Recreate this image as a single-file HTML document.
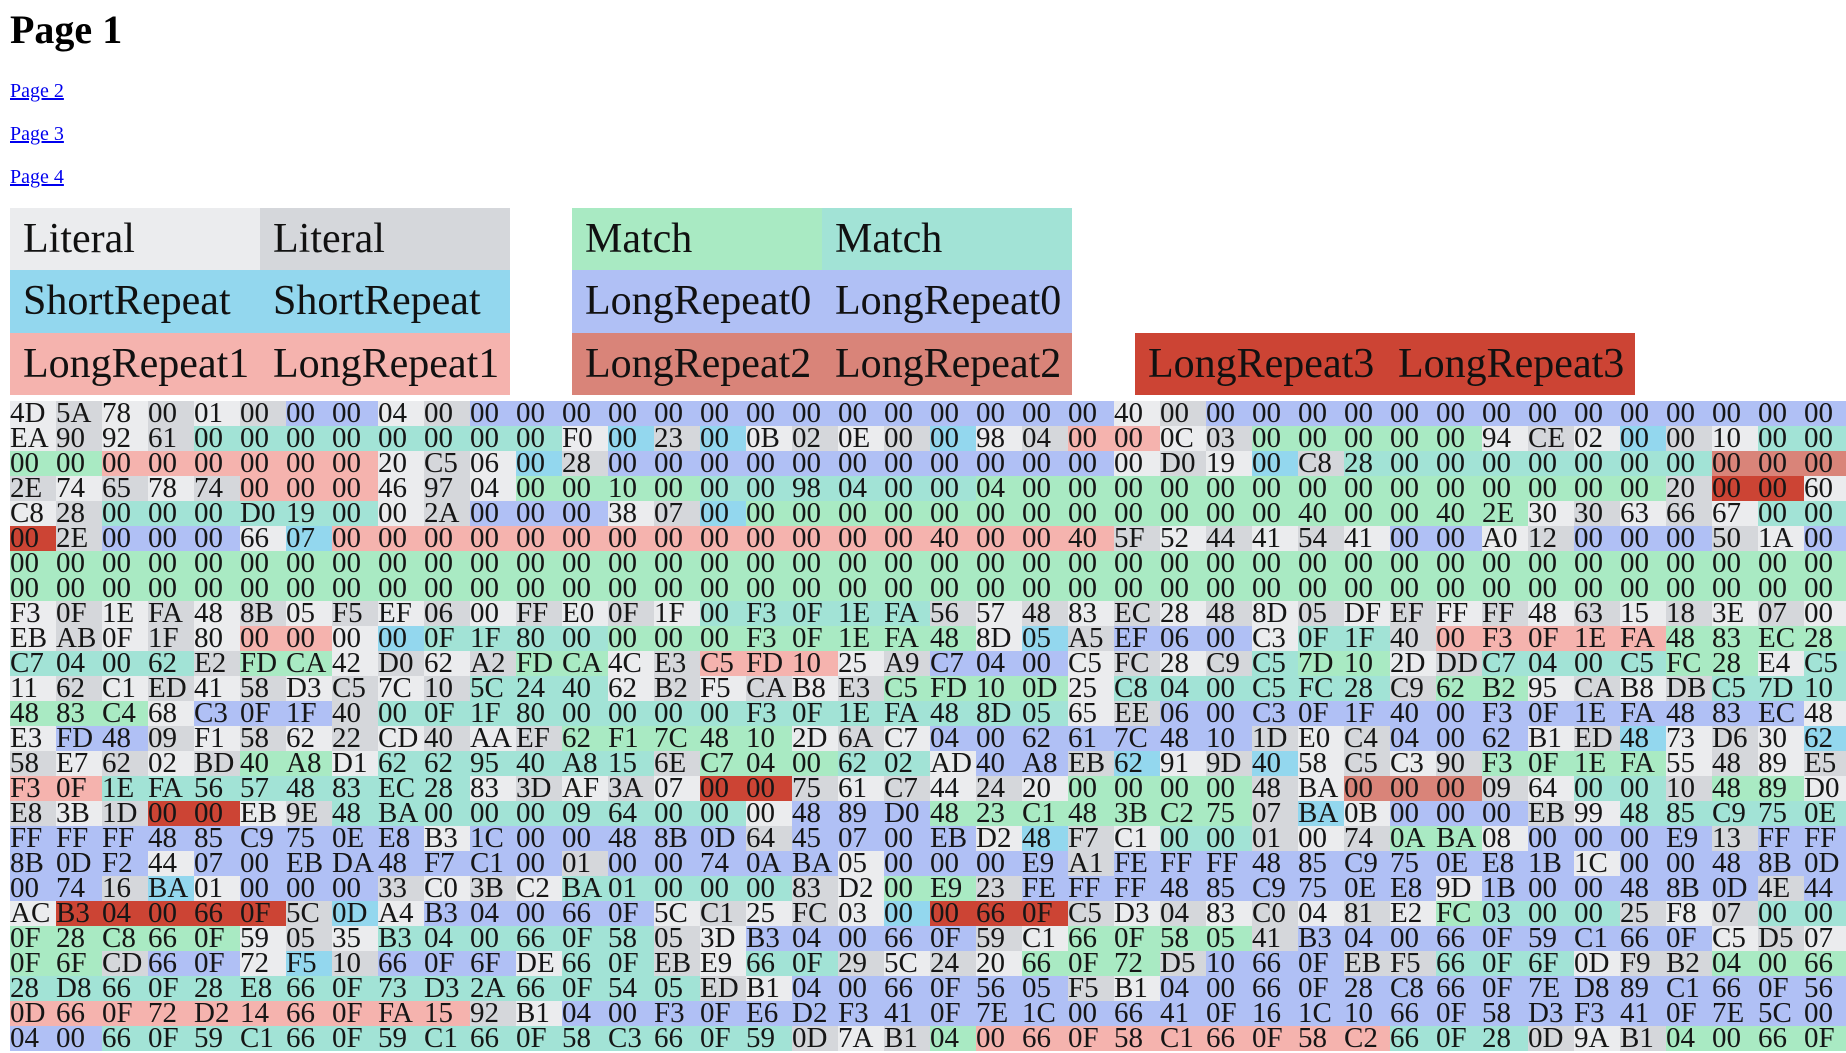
<!DOCTYPE html>
<html><head><meta charset="utf-8">
<style>
html,body{margin:0;padding:0;background:#fff;width:1846px;height:1053px;overflow:hidden;}
body{position:relative;font-family:"Liberation Serif",serif;color:#000;}
h1{position:absolute;left:10px;top:6px;margin:0;font-size:40px;font-weight:bold;line-height:48px;}
a{position:absolute;left:10px;font-size:20px;color:#0000ee;text-decoration:underline;line-height:23px;}
.lg{position:absolute;width:250px;height:62.4px;box-sizing:border-box;padding-left:13px;font-size:42px;line-height:62px;white-space:nowrap;color:#111;}
#grid{position:absolute;left:10px;top:401px;width:1900px;}
.row{height:25px;white-space:nowrap;}
.c{display:inline-block;width:46px;height:25px;font-size:29px;line-height:25px;vertical-align:top;overflow:visible;color:#161616;}
</style></head><body>
<h1>Page 1</h1>
<a href="#" style="top:80px">Page 2</a>
<a href="#" style="top:123px">Page 3</a>
<a href="#" style="top:166px">Page 4</a>

<div class="lg" style="left:10px;top:208px;background:#ebecee">Literal</div>
<div class="lg" style="left:260px;top:208px;background:#d5d7db">Literal</div>
<div class="lg" style="left:10px;top:270.4px;background:#93d7ee">ShortRepeat</div>
<div class="lg" style="left:260px;top:270.4px;background:#93d7ee">ShortRepeat</div>
<div class="lg" style="left:10px;top:332.8px;background:#f5b3ae">LongRepeat1</div>
<div class="lg" style="left:260px;top:332.8px;background:#f5b3ae">LongRepeat1</div>
<div class="lg" style="left:572px;top:208px;background:#a9eac3">Match</div>
<div class="lg" style="left:822px;top:208px;background:#a2e3d6">Match</div>
<div class="lg" style="left:572px;top:270.4px;background:#b0c0f5">LongRepeat0</div>
<div class="lg" style="left:822px;top:270.4px;background:#b0c0f5">LongRepeat0</div>
<div class="lg" style="left:572px;top:332.8px;background:#d98479">LongRepeat2</div>
<div class="lg" style="left:822px;top:332.8px;background:#d98479">LongRepeat2</div>
<div class="lg" style="left:1135px;top:332.8px;background:#cc4434">LongRepeat3</div>
<div class="lg" style="left:1385px;top:332.8px;background:#cc4434">LongRepeat3</div>

<div id="grid"></div>

<script>
const hexRows = [
"4D 5A 78 00 01 00 00 00 04 00 00 00 00 00 00 00 00 00 00 00 00 00 00 00 40 00 00 00 00 00 00 00 00 00 00 00 00 00 00 00",
"EA 90 92 61 00 00 00 00 00 00 00 00 F0 00 23 00 0B 02 0E 00 00 98 04 00 00 0C 03 00 00 00 00 00 94 CE 02 00 00 10 00 00",
"00 00 00 00 00 00 00 00 20 C5 06 00 28 00 00 00 00 00 00 00 00 00 00 00 00 D0 19 00 C8 28 00 00 00 00 00 00 00 00 00 00",
"2E 74 65 78 74 00 00 00 46 97 04 00 00 10 00 00 00 98 04 00 00 04 00 00 00 00 00 00 00 00 00 00 00 00 00 00 20 00 00 60",
"C8 28 00 00 00 D0 19 00 00 2A 00 00 00 38 07 00 00 00 00 00 00 00 00 00 00 00 00 00 40 00 00 40 2E 30 30 63 66 67 00 00",
"00 2E 00 00 00 66 07 00 00 00 00 00 00 00 00 00 00 00 00 00 40 00 00 40 5F 52 44 41 54 41 00 00 A0 12 00 00 00 50 1A 00",
"00 00 00 00 00 00 00 00 00 00 00 00 00 00 00 00 00 00 00 00 00 00 00 00 00 00 00 00 00 00 00 00 00 00 00 00 00 00 00 00",
"00 00 00 00 00 00 00 00 00 00 00 00 00 00 00 00 00 00 00 00 00 00 00 00 00 00 00 00 00 00 00 00 00 00 00 00 00 00 00 00",
"F3 0F 1E FA 48 8B 05 F5 EF 06 00 FF E0 0F 1F 00 F3 0F 1E FA 56 57 48 83 EC 28 48 8D 05 DF EF FF FF 48 63 15 18 3E 07 00",
"EB AB 0F 1F 80 00 00 00 00 0F 1F 80 00 00 00 00 F3 0F 1E FA 48 8D 05 A5 EF 06 00 C3 0F 1F 40 00 F3 0F 1E FA 48 83 EC 28",
"C7 04 00 62 E2 FD CA 42 D0 62 A2 FD CA 4C E3 C5 FD 10 25 A9 C7 04 00 C5 FC 28 C9 C5 7D 10 2D DD C7 04 00 C5 FC 28 E4 C5",
"11 62 C1 ED 41 58 D3 C5 7C 10 5C 24 40 62 B2 F5 CA B8 E3 C5 FD 10 0D 25 C8 04 00 C5 FC 28 C9 62 B2 95 CA B8 DB C5 7D 10",
"48 83 C4 68 C3 0F 1F 40 00 0F 1F 80 00 00 00 00 F3 0F 1E FA 48 8D 05 65 EE 06 00 C3 0F 1F 40 00 F3 0F 1E FA 48 83 EC 48",
"E3 FD 48 09 F1 58 62 22 CD 40 AA EF 62 F1 7C 48 10 2D 6A C7 04 00 62 61 7C 48 10 1D E0 C4 04 00 62 B1 ED 48 73 D6 30 62",
"58 E7 62 02 BD 40 A8 D1 62 62 95 40 A8 15 6E C7 04 00 62 02 AD 40 A8 EB 62 91 9D 40 58 C5 C3 90 F3 0F 1E FA 55 48 89 E5",
"F3 0F 1E FA 56 57 48 83 EC 28 83 3D AF 3A 07 00 00 75 61 C7 44 24 20 00 00 00 00 48 BA 00 00 00 09 64 00 00 10 48 89 D0",
"E8 3B 1D 00 00 EB 9E 48 BA 00 00 00 09 64 00 00 00 48 89 D0 48 23 C1 48 3B C2 75 07 BA 0B 00 00 00 EB 99 48 85 C9 75 0E",
"FF FF FF 48 85 C9 75 0E E8 B3 1C 00 00 48 8B 0D 64 45 07 00 EB D2 48 F7 C1 00 00 01 00 74 0A BA 08 00 00 00 E9 13 FF FF",
"8B 0D F2 44 07 00 EB DA 48 F7 C1 00 01 00 00 74 0A BA 05 00 00 00 E9 A1 FE FF FF 48 85 C9 75 0E E8 1B 1C 00 00 48 8B 0D",
"00 74 16 BA 01 00 00 00 33 C0 3B C2 BA 01 00 00 00 83 D2 00 E9 23 FE FF FF 48 85 C9 75 0E E8 9D 1B 00 00 48 8B 0D 4E 44",
"AC B3 04 00 66 0F 5C 0D A4 B3 04 00 66 0F 5C C1 25 FC 03 00 00 66 0F C5 D3 04 83 C0 04 81 E2 FC 03 00 00 25 F8 07 00 00",
"0F 28 C8 66 0F 59 05 35 B3 04 00 66 0F 58 05 3D B3 04 00 66 0F 59 C1 66 0F 58 05 41 B3 04 00 66 0F 59 C1 66 0F C5 D5 07",
"0F 6F CD 66 0F 72 F5 10 66 0F 6F DE 66 0F EB E9 66 0F 29 5C 24 20 66 0F 72 D5 10 66 0F EB F5 66 0F 6F 0D F9 B2 04 00 66",
"28 D8 66 0F 28 E8 66 0F 73 D3 2A 66 0F 54 05 ED B1 04 00 66 0F 56 05 F5 B1 04 00 66 0F 28 C8 66 0F 7E D8 89 C1 66 0F 56",
"0D 66 0F 72 D2 14 66 0F FA 15 92 B1 04 00 F3 0F E6 D2 F3 41 0F 7E 1C 00 66 41 0F 16 1C 10 66 0F 58 D3 F3 41 0F 7E 5C 00",
"04 00 66 0F 59 C1 66 0F 59 C1 66 0F 58 C3 66 0F 59 0D 7A B1 04 00 66 0F 58 C1 66 0F 58 C2 66 0F 28 0D 9A B1 04 00 66 0F"
];
const kindRows = [
"lLlLlL00lL00000000000000lL00000000000000",
"lLlLMMMMMMMMlsLslLlLslL11lLmmmmmlLlsLlMM",
"mm111111lLlsL00000000000lLlsLMMMMMMMM222",
"LlLlL111lLlmmmmMMMMMMmmmmmmmmmmmmmmmL33l",
"lLMMMMMMlL000lLsmmmmmmmmmmmmmmmmmlLlLlMM",
"3L000ls11111111111111111LlLlLl00lL000Ll0",
"mmmmmmmmmmmmmmmmmmmmmmmmmmmmmmmmmmmmmmmm",
"mmmmmmmmmmmmmmmmmmmmmmmmmmmmmmmmmmmmmmmm",
"lLlLlLlLlLlLlLlMMMMMLlLlLlLlLlLlLlLlLlLl",
"lLlLl11lsMMMMmmmmmmmmlsL000lMML11111mmmm",
"MMMMLmmlLlLmmlL111lL000lLlLMmmlLMMMMmmlM",
"lLlLlLlLlLMMMlLlLlLmmmmlMMMMMMLmmlLlLMMM",
"mmml000LMMMMMMMMMMMMMMMlL00000000000000l",
"l00LlLlLlLlLmmmmmlLl0000000LlL000lLslLls",
"LlLlLmmlMMMMMMLmmmMMl00LslLslLlLmmmmlLlL",
"11MMMMMMMMlLlLl33LlLlLlmmmmLl222LlMMLmml",
"LlL33lLMMMMMMMMMl000mmmmmmmLsl000LlMMMMM",
"000000000l000000L0000lsLlMMLlLmml0000L00",
"000l00000000L00000l0000L0000000000l00000",
"00Lsl000LlLlMMMMMLlmmL000000000l000000L0",
"l33333Lsl00000lLlLls333LlLlLlLlmMMMLlLMM",
"mmmmmlLlMMMMMMLl00000LlmmmmL000000000lLl",
"mmL00lsL000lMMLlMMLlLlmmmL000LLMMMlLLmmm",
"MMMMMMMMMMMMMMMLl000000Ll000000000000000",
"1111111111Ll0000000000000000000000000000",
"00MMMMMMMMMMMMMMMLlLm111111111MMMLlLmmmm"
];
const kindColors = {l:"#ebecee",L:"#d5d7db",m:"#a9eac3",M:"#a2e3d6",s:"#93d7ee","0":"#b0c0f5","1":"#f5b3ae","2":"#d98479","3":"#cc4434"};
const kindNames = {l:"literal",L:"literal",m:"match",M:"match",s:"shortrepeat","0":"longrepeat0","1":"longrepeat1","2":"longrepeat2","3":"longrepeat3"};

const grid = document.getElementById('grid');
hexRows.forEach(function(rowStr, r){
  const row = document.createElement('div');
  row.className = 'row';
  
  
  const bytes = rowStr.split(' ');
  const kinds = kindRows[r];
  bytes.forEach(function(b, i){
    const cell = document.createElement('span');
    cell.className = 'c';
    const k = kinds.charAt(i) || 'l';
    cell.style.background = kindColors[k];
    cell.textContent = b;
    
    
    row.appendChild(cell);
  });
  grid.appendChild(row);
});
</script>
</body></html>
